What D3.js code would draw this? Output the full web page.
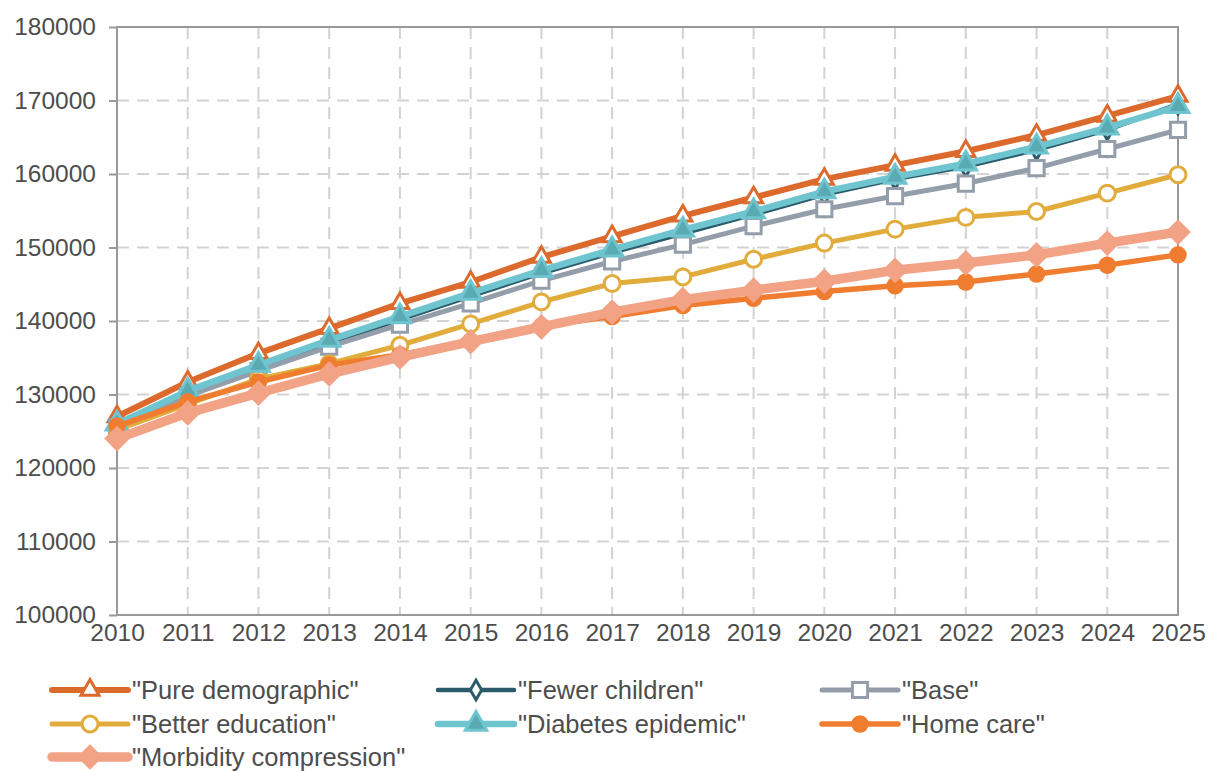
<!DOCTYPE html>
<html>
<head>
<meta charset="utf-8">
<script src="https://cdn.jsdelivr.net/npm/d3@7"></script>
<style>
  html, body { margin: 0; padding: 0; background: #fff; }
  svg { display: block; font-family: "Liberation Sans", Arial, sans-serif; }
</style>
</head>
<body>
<svg id="chart" width="1208" height="771"></svg>
<script>
// Scenario projections, 2010–2025
const years = d3.range(2010, 2026);
const yTicks = [100000, 110000, 120000, 130000, 140000, 150000, 160000, 170000, 180000];

const pureDemographic = [127000, 131700, 135600, 139000, 142400, 145300, 148700, 151500, 154300, 156800, 159300, 161200, 163100, 165300, 167900, 170600];
const fewerChildren   = [125900, 130200, 133700, 137000, 140200, 143400, 146500, 149300, 151900, 154500, 157200, 159300, 161000, 163300, 166000, 169500];
const base            = [125500, 129800, 133200, 136500, 139500, 142400, 145500, 148100, 150400, 152900, 155200, 157000, 158700, 160800, 163400, 166000];
const betterEducation = [125200, 128700, 132100, 134200, 136700, 139600, 142600, 145100, 146000, 148400, 150600, 152500, 154100, 154900, 157400, 159900];
const diabetesEpidemic= [126000, 130500, 134000, 137400, 140600, 143800, 146900, 149700, 152400, 154900, 157600, 159600, 161400, 163700, 166300, 169200];
const homeCare        = [125700, 129000, 131700, 134000, 135400, 137200, 139300, 140600, 142100, 143100, 144000, 144800, 145300, 146400, 147600, 149000];
const morbidityCompression = [124000, 127500, 130200, 132800, 135100, 137200, 139200, 141200, 142900, 144200, 145400, 146900, 147900, 149000, 150600, 152100];

const seriesNames = ['"Pure demographic"', '"Fewer children"', '"Base"', '"Better education"', '"Diabetes epidemic"', '"Home care"', '"Morbidity compression"'];
const seriesValues = [pureDemographic, fewerChildren, base, betterEducation, diabetesEpidemic, homeCare, morbidityCompression];

// Visual style per series: line colour/width and marker shape
const styles = [
  { color: "#dc6a2d", width: 6,   symbol: d3.symbolTriangle, size: 140, rot: 0,  fill: "#fff",    stroke: "#dc6a2d", sw: 3 },
  { color: "#2b5a6a", width: 4.5, symbol: d3.symbolDiamond,  size: 110, rot: 0,  fill: "#fff",    stroke: "#2b5a6a", sw: 3 },
  { color: "#939eaa", width: 5,   symbol: d3.symbolSquare,   size: 230, rot: 0,  fill: "#fff",    stroke: "#939eaa", sw: 3 },
  { color: "#e1ac3b", width: 5,   symbol: d3.symbolCircle,   size: 200, rot: 0,  fill: "#fff",    stroke: "#e1ac3b", sw: 3 },
  { color: "#6fc5cf", width: 6.5, symbol: d3.symbolTriangle, size: 200, rot: 0,  fill: "#5aaab3", stroke: "#6fc5cf", sw: 3 },
  { color: "#f07d2f", width: 5.5, symbol: d3.symbolCircle,   size: 240, rot: 0,  fill: "#f07d2f", stroke: "#f07d2f", sw: 0 },
  { color: "#f2a285", width: 9.5, symbol: d3.symbolSquare,   size: 330, rot: 45, fill: "#f2a285", stroke: "#f2a285", sw: 0 }
];

const svg = d3.select("#chart");
const m = { left: 117, right: 30, top: 27, bottom: 156 };
const W = 1208, H = 771;

const x = d3.scaleLinear().domain([2010, 2025]).range([m.left, W - m.right]);
const y = d3.scaleLinear().domain([100000, 180000]).range([H - m.bottom, m.top]);

const gridColor = "#d3d3d3";
const axisColor = "#999";
const textColor = "#4d4d4d";

// Dashed gridlines
const grid = svg.append("g");
grid.selectAll("line.h").data(yTicks.slice(1, -1)).join("line")
  .attr("x1", m.left).attr("x2", W - m.right)
  .attr("y1", d => y(d)).attr("y2", d => y(d))
  .attr("stroke", gridColor).attr("stroke-width", 2).attr("stroke-dasharray", "12,8");
grid.selectAll("line.v").data(years.slice(1, -1)).join("line")
  .attr("x1", d => x(d)).attr("x2", d => x(d))
  .attr("y1", m.top).attr("y2", H - m.bottom)
  .attr("stroke", gridColor).attr("stroke-width", 2).attr("stroke-dasharray", "12,8");

// Frame
svg.append("rect")
  .attr("x", m.left).attr("y", m.top)
  .attr("width", W - m.right - m.left).attr("height", H - m.bottom - m.top)
  .attr("fill", "none").attr("stroke", axisColor).attr("stroke-width", 2);

// Y axis
const yAxis = svg.append("g")
  .attr("transform", `translate(${m.left},0)`)
  .call(d3.axisLeft(y).tickValues(yTicks).tickFormat(d3.format("d")).tickSize(8).tickPadding(13));
yAxis.select(".domain").remove();
yAxis.selectAll(".tick line").attr("stroke", axisColor).attr("stroke-width", 2);
yAxis.selectAll(".tick text").attr("fill", textColor).style("font-size", "24.5px");

// X axis
const xAxis = svg.append("g")
  .attr("transform", `translate(0,${H - m.bottom})`)
  .call(d3.axisBottom(x).tickValues(years).tickFormat(d3.format("d")).tickSize(0).tickPadding(9));
xAxis.select(".domain").remove();
xAxis.selectAll(".tick text").attr("fill", textColor).style("font-size", "24.5px");

// Series lines and markers
const line = d3.line().x((d, i) => x(years[i])).y(d => y(d));
const symbolPath = (s) => d3.symbol().type(s.symbol).size(s.size)();

seriesValues.forEach((vals, k) => {
  const s = styles[k];
  const g = svg.append("g");
  g.append("path").datum(vals)
    .attr("d", line)
    .attr("fill", "none")
    .attr("stroke", s.color)
    .attr("stroke-width", s.width)
    .attr("stroke-linejoin", "round");
  g.selectAll("path.mk").data(vals).join("path")
    .attr("class", "mk")
    .attr("transform", (d, i) => `translate(${x(years[i])},${y(d)}) rotate(${s.rot})`)
    .attr("d", symbolPath(s))
    .attr("fill", s.fill)
    .attr("stroke", s.stroke)
    .attr("stroke-width", s.sw);
});

// Legend
const legendCols = [52, 438, 822];
const legendRows = [690, 724, 757];
const legend = svg.append("g");
seriesNames.forEach((name, k) => {
  const s = styles[k];
  const lx = legendCols[k % 3], ly = legendRows[Math.floor(k / 3)];
  const g = legend.append("g").attr("transform", `translate(${lx},${ly})`);
  g.append("line").attr("x1", 0).attr("x2", 76).attr("y1", 0).attr("y2", 0)
    .attr("stroke", s.color).attr("stroke-width", s.width).attr("stroke-linecap", "round");
  g.append("path").attr("transform", `translate(38,0) rotate(${s.rot})`)
    .attr("d", symbolPath(s))
    .attr("fill", s.fill).attr("stroke", s.stroke).attr("stroke-width", s.sw);
  g.append("text").attr("x", 80).attr("y", 0).attr("dy", "0.35em")
    .attr("fill", textColor).style("font-size", "25.5px").text(name);
});
</script>
</body>
</html>
